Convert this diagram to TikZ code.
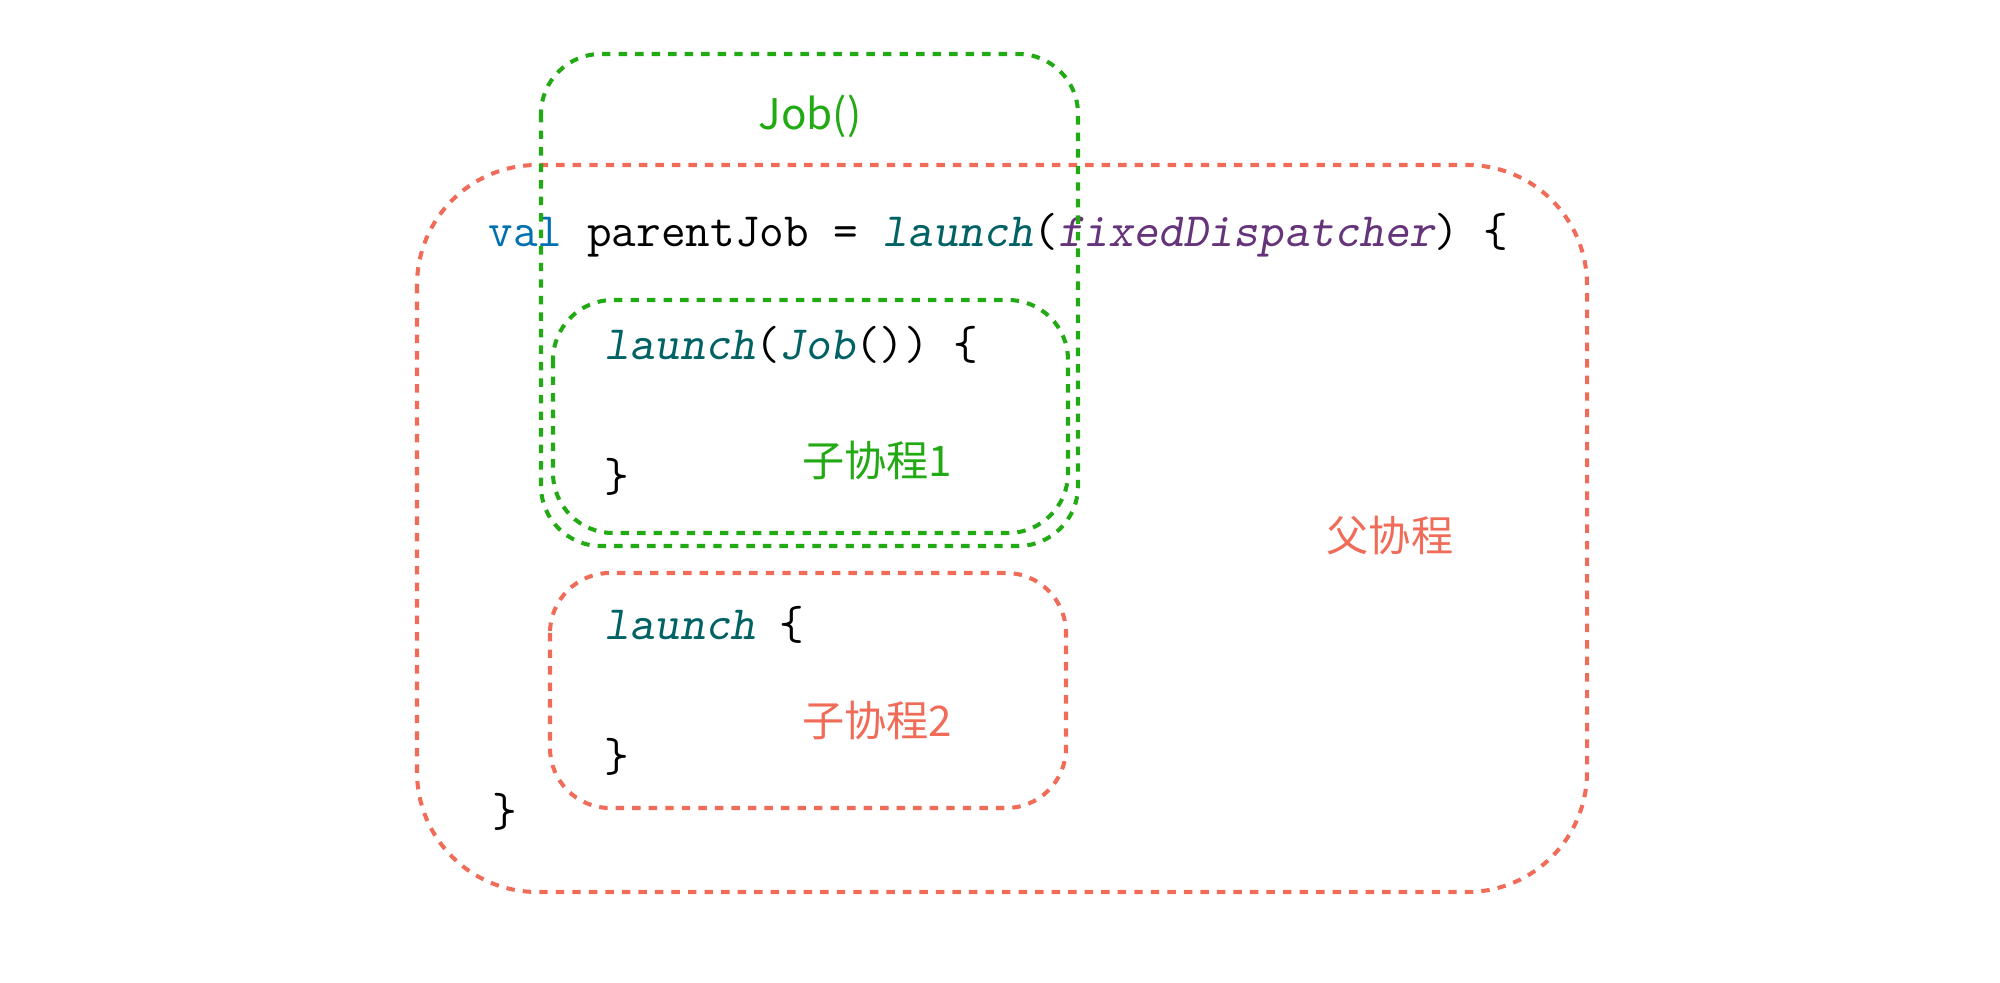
\documentclass[tikz,border=0pt]{standalone}
\usepackage{fontspec}
\setmainfont{Liberation Sans}
\newfontfamily\cjk{Noto Sans CJK SC}
\newfontfamily\oblmono{Latin Modern Mono Slanted}
\usetikzlibrary{positioning}
\definecolor{jobgreen}{RGB}{34,170,20}
\definecolor{parentred}{RGB}{240,108,88}
\definecolor{kwblue}{RGB}{0,112,176}
\definecolor{fnteal}{RGB}{0,98,100}
\definecolor{fieldpurple}{RGB}{102,52,122}
\tikzset{
box/.style={line width=1.15pt, dash pattern=on 2.4pt off 2.3pt},
greenbox/.style={box, draw=jobgreen, rounded corners=0.6cm},
redbox/.style={box, draw=parentred, rounded corners=0.6cm},
code/.style={anchor=base west, inner sep=0pt, font=\ttfamily\fontsize{13.6pt}{16pt}\selectfont},
label/.style={inner sep=0pt, font=\cjk\fontsize{12pt}{14pt}\selectfont},
}
\newcommand{\kw}[1]{\textcolor{kwblue}{#1}}
\newcommand{\fn}[1]{\textcolor{fnteal}{\oblmono #1}}
\newcommand{\fld}[1]{\textcolor{fieldpurple}{\oblmono #1}}

\begin{document}
\begin{tikzpicture}[x=0.01cm, y=-0.01cm]
\useasboundingbox (0,0) rectangle (2000,983);
% code lines
    \node[code] (line1) at (488,247) {\kw{val} parentJob = \fn{launch}(\fld{fixedDispatcher}) \{};
    \node[code] (line2) at (604,360) {\fn{launch}(\fn{Job}()) \{};
    \node[code] (line3) at (604,492) {\}};
    \node[code] (line4) at (604,640) {\fn{launch} \{};
    \node[code] (line5) at (604,772) {\}};
    \node[code] (line6) at (492,827) {\}};
% labels
    \node[label, text=jobgreen] (job) at (810,116) {Job()};
    \node[label, text=jobgreen] (child1) at (877,460) {子协程1};
    \node[label, text=parentred] (child2) at (877,720) {子协程2};
    \node[label, text=parentred] (parent) at (1390,536) {父协程};
% boxes
    \draw[redbox, rounded corners=1.2cm] (417,165) rectangle (1587,892);
    \draw[redbox] (550,573) rectangle (1066,808);
    \draw[greenbox] (541,54) rectangle (1078,546);
    \draw[greenbox] (553,300) rectangle (1068,533);
\end{tikzpicture}
\end{document}
